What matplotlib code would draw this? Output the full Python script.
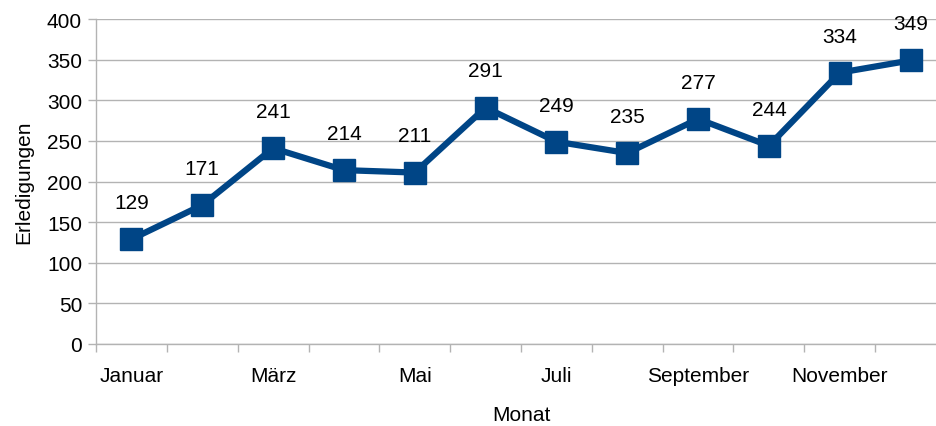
import matplotlib
matplotlib.use("Agg")
import matplotlib.pyplot as plt
from matplotlib.ticker import FixedLocator, MultipleLocator

months = ["Januar", "Februar", "März", "April", "Mai", "Juni", "Juli",
          "August", "September", "Oktober", "November", "Dezember"]
values = [129, 171, 241, 214, 211, 291, 249, 235, 277, 244, 334, 349]

plt.rcParams['font.family'] = ['Liberation Sans', 'DejaVu Sans']
fs = 15
color = "#004586"
gridc = "#b3b3b3"

fig = plt.figure(figsize=(9.36, 4.27), dpi=100)
ax = fig.add_axes([96/936, 82/427, 850/936, 325/427])

x = list(range(len(months)))
ax.plot(x, values, color=color, lw=4.5, marker="s", markersize=15.5,
        solid_joinstyle="miter", zorder=3, clip_on=False)
for xi, v in zip(x, values):
    ax.annotate(str(v), (xi, v), xytext=(0, 19.5), textcoords="offset points",
                ha="center", va="bottom", fontsize=fs, color="black",
                annotation_clip=False)

ax.set_xlim(-0.5, len(months) - 0.5)
ax.set_ylim(0, 400)
ax.yaxis.set_major_locator(MultipleLocator(50))
ax.grid(axis="y", color=gridc, lw=1)
ax.set_axisbelow(True)

ax.set_xticks(x[::2])
ax.set_xticklabels(months[::2], fontsize=fs)
ax.xaxis.set_minor_locator(FixedLocator([i - 0.5 for i in range(len(months) + 1)]))
ax.tick_params(axis="x", which="major", length=0, pad=16)
ax.tick_params(axis="x", which="minor", length=6, color=gridc, width=1)
ax.tick_params(axis="y", length=6, color=gridc, width=1, labelsize=fs, pad=4)

for s in ["top", "right"]:
    ax.spines[s].set_visible(False)
for s in ["left", "bottom"]:
    ax.spines[s].set_color(gridc)
    ax.spines[s].set_linewidth(1)

ax.set_xlabel("Monat", fontsize=fs, labelpad=14)
ax.set_ylabel("Erledigungen", fontsize=fs, labelpad=10)

fig.savefig("out.png", dpi=100)
